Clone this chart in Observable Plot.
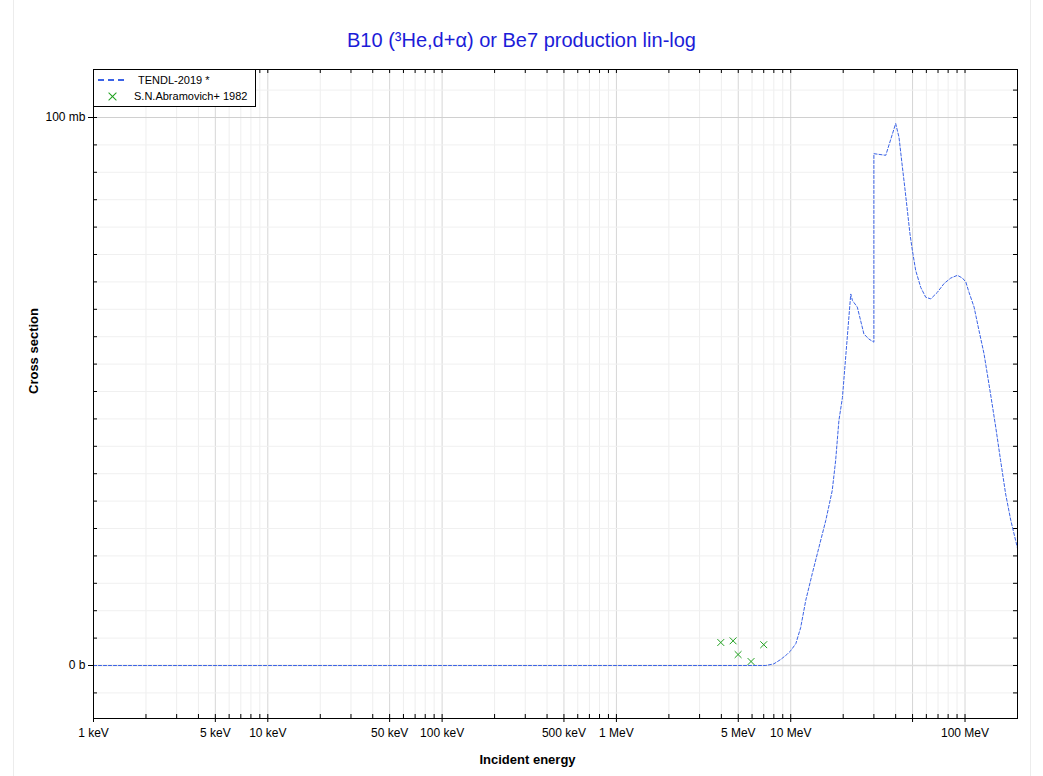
<!DOCTYPE html>
<html><head><meta charset="utf-8">
<script src="https://cdn.jsdelivr.net/npm/d3@7"></script>
<script src="https://cdn.jsdelivr.net/npm/@observablehq/plot@0.6"></script>
<style>
body{margin:0;background:#fff;font-family:"Liberation Sans",Arial,sans-serif;}
#wrap{position:relative;width:1043px;height:776px;overflow:hidden;background:#fff;}
#edgeL,#edgeR{position:absolute;top:0;width:1px;height:776px;background:#ececec;}
#edgeL{left:13px}#edgeR{left:1030px}
#title{position:relative;height:60px;box-sizing:border-box;padding-top:28px;line-height:24px;font-size:20px;color:#1c1cd8;text-align:center;}
#chart{position:relative;}
#legend{position:absolute;left:93px;top:69px;width:163px;height:38px;box-sizing:border-box;border:1px solid #000;background:#fff;font-size:11px;color:#000;}
#legend .txt{position:absolute;white-space:nowrap;line-height:14px;}
#legend .dash{position:absolute;left:4px;top:9px;width:26px;height:2px;background:repeating-linear-gradient(to right,#3b63e6 0 6px,transparent 6px 10px);}
#legend .x{position:absolute;left:14px;top:21px;width:10px;height:10px;}
#legend .x span{position:absolute;left:-1px;top:4.5px;width:11px;height:1px;background:#1fa01f;}
</style></head>
<body>
<div id="wrap">
<div id="edgeL"></div><div id="edgeR"></div>
<div id="title">B10 (³He,d+α) or Be7 production lin-log</div>
<div id="chart"></div>
<div id="legend">
  <div class="dash"></div>
  <div class="txt" style="left:44px;top:3px">TENDL-2019 *</div>
  <div class="x"><span style="transform:rotate(45deg)"></span><span style="transform:rotate(-45deg)"></span></div>
  <div class="txt" style="left:40px;top:19px">S.N.Abramovich+ 1982</div>
</div>
</div>
<script>
// TENDL-2019 evaluated curve (energy in MeV, cross section in mb)
const tendlE  = [0.001, 7.2, 8.0, 8.76, 9.5, 10.0, 10.7, 11.4, 12.2, 13.3, 14.5, 15.9, 17.3, 18.1, 18.9, 19.8, 20.6, 22.1, 22.6, 24.1, 26.3, 28.0, 30.0, 30.0, 35.1, 40.0, 41.8, 43.7, 45.1, 46.7, 48.3, 49.9, 52.1, 55.7, 59.5, 63.6, 69.4, 75.8, 82.8, 90.4, 96.6, 101, 105.4, 112.7, 120.3, 128.5, 140, 150, 160, 171, 183, 200];
const tendlXS = [0, 0, 0.3, 1.1, 2.0, 2.7, 4.0, 6.9, 11.9, 16.8, 21.5, 26.5, 31.9, 37.4, 44.7, 48.9, 55.7, 67.8, 66.6, 65.4, 60.5, 59.6, 59.0, 93.4, 93.1, 98.9, 96.4, 91.0, 87.3, 83.0, 78.8, 75.7, 72.1, 69.0, 67.2, 66.9, 68.1, 69.7, 70.7, 71.2, 70.7, 70.0, 68.1, 65.4, 61.1, 56.9, 49.6, 43.5, 37.4, 31.3, 26.5, 21.4];
// S.N.Abramovich+ 1982 experimental points
const expE  = [3.97, 4.67, 4.99, 5.92, 7.0];
const expXS = [4.2, 4.5, 2.0, 0.73, 3.8];
// tick labels
const xTickValues = [0.001, 0.005, 0.01, 0.05, 0.1, 0.5, 1, 5, 10, 50, 100];
const xTickLabels = ["1 keV", "5 keV", "10 keV", "50 keV", "100 keV", "500 keV", "1 MeV", "5 MeV", "10 MeV", "", "100 MeV"];
const yTickValues = [0, 100];
const yTickLabels = ["0 b", "100 mb"];

const tendl = tendlE.map((e, i) => ({e, xs: tendlXS[i]}));
const exp = expE.map((e, i) => ({e, xs: expXS[i]}));
const xTicks = xTickValues.map((v, i) => ({v, label: xTickLabels[i]}));
const yTicks = yTickValues.map((v, i) => ({v, label: yTickLabels[i]}));

const W = 1043, H = 716, mL = 93, mR = 26, mT = 9, mB = 58;
const innerW = W - mL - mR, innerH = H - mT - mB;

const xGrid = [];
for (let p = -3; p <= 2; p++) for (let m = 1; m <= 9; m++) { const v = m * Math.pow(10, p); if (v <= 200.0001) xGrid.push(v); }
const xMajor = xGrid.filter(v => { const m = Math.round(v / Math.pow(10, Math.floor(Math.log10(v) + 1e-9))); return m === 1 || m === 5; });
const xMinor = xGrid.filter(v => !xMajor.includes(v));
const yAll = d3.range(-5, 106, 5);
const yMinor = yAll.filter(v => v !== 0 && v !== 100);

const chart = Plot.plot({
  width: W, height: H,
  marginLeft: mL, marginRight: mR, marginTop: mT, marginBottom: mB,
  style: {fontFamily: "'Liberation Sans', Arial, sans-serif", fontSize: "12px", background: "transparent", color: "#000"},
  x: {type: "log", domain: [0.001, 200], axis: null},
  y: {type: "linear", domain: [-9.67, 108.76], axis: null},
  marks: [
    Plot.ruleX(xMinor, {stroke: "#eeeeee"}),
    Plot.ruleX(xMajor, {stroke: "#d6d6d6"}),
    Plot.ruleY(yMinor, {stroke: "#f0f0f0"}),
    Plot.ruleY([0], {stroke: "#dcdcdc", strokeWidth: 1.5}),
    Plot.ruleY([100], {stroke: "#d0d0d0"}),
    // inward ticks on all four sides
    Plot.ruleX(xGrid, {stroke: "#000", insetTop: innerH - 4}),
    Plot.ruleX(xGrid, {stroke: "#000", insetBottom: innerH - 4}),
    Plot.ruleY(yAll, {stroke: "#000", insetRight: innerW - 4}),
    Plot.ruleY(yAll, {stroke: "#000", insetLeft: innerW - 4}),
    // outward ticks at labelled positions
    Plot.ruleX(xTicks, {x: "v", stroke: "#000", insetTop: innerH, insetBottom: -4}),
    Plot.ruleY(yTicks, {y: "v", stroke: "#000", insetRight: innerW, insetLeft: -5}),
    Plot.line(tendl, {x: "e", y: "xs", stroke: "#3b63e6", strokeWidth: 1, strokeDasharray: "3,2"}),
    Plot.dot(exp, {x: "e", y: "xs", symbol: "times", r: 3.2, stroke: "#1fa01f", strokeWidth: 1}),
    Plot.frame({stroke: "#000"}),
    Plot.text(xTicks, {x: "v", text: "label", frameAnchor: "bottom", dy: 18, fill: "#000"}),
    Plot.text(yTicks, {y: "v", text: "label", frameAnchor: "left", dx: -8, textAnchor: "end", fill: "#000"}),
    Plot.text(["Incident energy"], {text: d => d, frameAnchor: "bottom", dx: -28, dy: 45, fontWeight: "bold", fontSize: 13}),
    Plot.text(["Cross section"], {text: d => d, frameAnchor: "left", dx: -60, rotate: -90, fontWeight: "bold", fontSize: 13})
  ]
});
document.getElementById("chart").appendChild(chart);
</script>
</body></html>
